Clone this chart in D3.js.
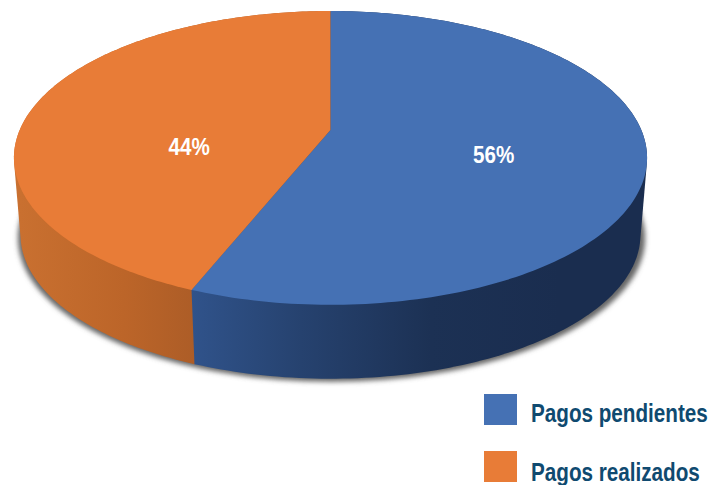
<!DOCTYPE html>
<html><head><meta charset="utf-8">
<script src="https://cdn.jsdelivr.net/npm/d3@7"></script>
<style>html,body{margin:0;padding:0;background:#fff;overflow:hidden}svg{display:block}</style>
</head><body><svg id="c" width="723" height="485"></svg>
<script>
const categories = ["Pagos pendientes", "Pagos realizados"];
const values = [56, 44];
const topColors = ["#4571b4", "#e87c37"];
const sideStops = [
  [["#30538b",0],["#26426f",0.3],["#1c3154",0.65],["#1a2d4f",1]],
  [["#c97030",0],["#bc6529",0.6],["#ad5d27",1]]
];

const svg = d3.select("#c");
const defs = svg.append("defs");

// perspective projection of the unit disc
const apex = {x: 330.5, y: 130}, k = -0.19, a = 310.8, b = 141.6;
const proj = (u, v) => { const w = 1 + k * v; return [apex.x + a * u / w, apex.y + b * v / w]; };
const rim = t => proj(Math.sin(t), -Math.cos(t));
const depth = {scale: 0.979, cy0: 158, cy1: 235};
const drop = ([x, y]) => [apex.x + (x - apex.x) * depth.scale, depth.cy1 + (y - depth.cy0) * depth.scale];

const pie = d3.pie().sort(null).value(d => d);
const arcs = pie(values);
const line = d3.line();
const arcPts = (s, e) => d3.range(0, 181).map(i => rim(s + (e - s) * i / 180));

defs.append("filter").attr("id", "blur").attr("x", "-5%").attr("y", "-5%").attr("width", "110%").attr("height", "110%")
  .append("feGaussianBlur").attr("stdDeviation", 2.8);

sideStops.forEach((st, i) => {
  const g = defs.append("linearGradient").attr("id", "side" + i).attr("gradientUnits", "userSpaceOnUse");
  if (i === 0) g.attr("x1", 190).attr("x2", 560).attr("y1", 0).attr("y2", 0);
  else g.attr("x1", 20).attr("x2", 193).attr("y1", 0).attr("y2", 0);
  g.selectAll("stop").data(st).join("stop").attr("offset", d => d[1]).attr("stop-color", d => d[0]);
});

// soft shadow beneath the base
const fullTop = arcPts(0, 2 * Math.PI);
const shadowPts = fullTop.map(drop).map(([x, y]) => [apex.x + 1 + (x - apex.x) * 1.012, y + 3]);
svg.append("path").attr("d", line(shadowPts) + "Z").attr("fill", "#666").attr("filter", "url(#blur)");

// side walls: orange first, blue over it
const sides = svg.append("g");
[1, 0].forEach(i => {
  const t = arcPts(arcs[i].startAngle, arcs[i].endAngle);
  sides.append("path")
    .attr("d", line(d3.polygonHull(t.concat(t.map(drop)))) + "Z")
    .attr("fill", `url(#side${i})`);
});

// top face
svg.append("g").selectAll("path").data(arcs).join("path")
  .attr("d", d => line([proj(0, 0)].concat(arcPts(d.startAngle, d.endAngle))) + "Z")
  .attr("fill", (d, i) => topColors[i]);

// percent labels
const font = "'Liberation Sans',Arial,sans-serif";
svg.append("g").selectAll("text").data(arcs).join("text")
  .attr("transform", d => {
    const m = (d.startAngle + d.endAngle) / 2;
    return `translate(${apex.x + 11 + 155 * Math.sin(m)},${159 - 21 * Math.cos(m)}) scale(0.86,1)`;
  })
  .attr("text-anchor", "middle")
  .attr("font-family", font).attr("font-weight", "bold").attr("font-size", 24)
  .attr("fill", "#fff")
  .text(d => d.value + "%");

// legend
const legY = d3.scalePoint().domain(categories).range([394, 451]);
const legText = d3.scalePoint().domain(categories).range([421.5, 481]);
const leg = svg.append("g");
leg.selectAll("rect").data(categories).join("rect")
  .attr("x", 484).attr("y", d => legY(d))
  .attr("width", 33).attr("height", 31).attr("fill", (d, i) => topColors[i]);
leg.selectAll("text").data(categories).join("text")
  .attr("transform", d => `translate(531,${legText(d)}) scale(0.827,1)`)
  .attr("font-family", font).attr("font-weight", "bold").attr("font-size", 25)
  .attr("fill", "#0f4a70").text(d => d);
</script></body></html>
